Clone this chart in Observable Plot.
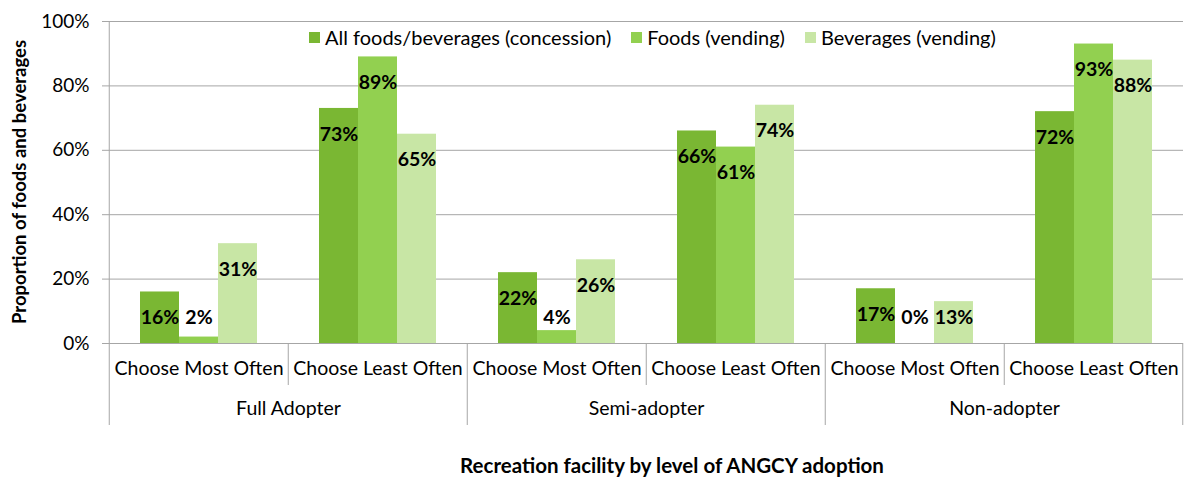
<!DOCTYPE html>
<html>
<head>
<meta charset="utf-8">
<script src="https://cdn.jsdelivr.net/npm/d3@7"></script>
<script src="https://cdn.jsdelivr.net/npm/@observablehq/plot@0.6"></script>
<style>
  html, body { margin: 0; padding: 0; background: #fff; }
  #wrap { position: relative; width: 1184px; height: 477px; font-family: Lato, "Open Sans", sans-serif; }
  #legend { position: absolute; top: 25px; left: 309px; display: flex; gap: 20px; font-size: 20px; color: #000; white-space: nowrap; }
  #legend .item { display: flex; align-items: center; }
  #legend .sw { width: 11px; height: 11px; margin-right: 5px; }
  #xtitle { position: absolute; top: 453px; left: 260px; width: 824px; text-align: center; font-weight: bold; font-size: 20.5px; color: #000; }
  #ytitle { position: absolute; left: 19px; top: 182px; transform: translate(-50%, -50%) rotate(-90deg); font-weight: bold; font-size: 18.5px; color: #000; white-space: nowrap; }
</style>
</head>
<body>
<div id="wrap">
  <div id="chart"></div>
  <div id="legend"></div>
  <div id="xtitle"></div>
  <div id="ytitle"></div>
</div>
<script>
const groups = ["Full Adopter", "Semi-adopter", "Non-adopter"];
const subs = ["Choose Most Often", "Choose Least Often"];
const series = ["All foods/beverages (concession)", "Foods (vending)", "Beverages (vending)"];
// values in %, order: Full-Most, Full-Least, Semi-Most, Semi-Least, Non-Most, Non-Least
const concession = [16, 73, 22, 66, 17, 72];
const foodsVending = [2, 89, 4, 61, 0, 93];
const beveragesVending = [31, 65, 26, 74, 13, 88];
const yTicks = [0, 0.2, 0.4, 0.6, 0.8, 1];
const colors = ["#7AB733", "#92D050", "#C8E6A5"];
const yTitle = "Proportion of foods and beverages";
const xTitle = "Recreation facility by level of ANGCY adoption";

const keys = [];
const keyInfo = {};
groups.forEach(g => subs.forEach(s => { const k = g + "|" + s; keys.push(k); keyInfo[k] = {group: g, sub: s}; }));
const seriesValues = [concession, foodsVending, beveragesVending];
const rows = [];
keys.forEach((k, i) => series.forEach((s, j) => rows.push({key: k, series: s, value: seriesValues[j][i] / 100})));
const groupRows = groups.map(g => ({key: g + "|" + subs[0], group: g}));

const W = 1184, H = 440, ML = 107, MR = 0, MT = 21, MB = 97;
const half = (W - ML - MR) / keys.length / 2;
const gray = "#A6A6A6";

const chart = Plot.plot({
  width: W, height: H,
  marginLeft: ML, marginRight: MR, marginTop: MT, marginBottom: MB,
  style: {fontFamily: "Lato, 'Open Sans', sans-serif", fontSize: "19px", color: "#000", background: "#fff", overflow: "visible"},
  fx: {domain: keys, padding: 0, axis: null, label: null},
  x: {domain: series, paddingInner: 0, paddingOuter: 0.745, axis: null},
  y: {domain: [0, 1], axis: null},
  color: {domain: series, range: colors},
  marks: [
    Plot.gridY(yTicks, {stroke: gray, strokeOpacity: 1}),
    Plot.axisY(yTicks, {tickSize: 7, tickPadding: 13, stroke: gray, tickFormat: d3.format(".0%"), label: null, fontSize: 19}),
    Plot.barY(rows, {fx: "key", x: "series", y: "value", fill: "series"}),
    Plot.text(rows, {fx: "key", x: "series", y: d => Math.max(d.value, 0.16), dy: 26,
      text: d => Math.round(d.value * 100) + "%", fontWeight: "bold", fontSize: 19.5, fill: "#000"}),
    // sub-category labels
    Plot.axisFx({anchor: "bottom", tickSize: 0, tickPadding: 18, tickFormat: k => keyInfo[k].sub, label: null, fontSize: 19.5}),
    // separators between sub-categories
    Plot.axisFx({anchor: "bottom", ticks: keys.filter((k, i) => i % 2 === 1), tickSize: 42, dx: -half, tickFormat: () => "", label: null, stroke: gray}),
    // separators between groups
    Plot.axisFx({anchor: "bottom", ticks: keys.filter((k, i) => i % 2 === 0), tickSize: 82, dx: -half, tickFormat: () => "", label: null, stroke: gray}),
    Plot.axisFx({anchor: "bottom", ticks: [keys[keys.length - 1]], tickSize: 82, dx: half - 1, tickFormat: () => "", label: null, stroke: gray}),
    // group labels
    Plot.text(groupRows, {fx: "key", frameAnchor: "bottom-right", textAnchor: "middle", dy: 71, text: "group", fontSize: 19.5, fill: "#000"}),
    // left axis line
    Plot.axisFx({anchor: "bottom", ticks: [keys[0]], tickSize: -(H - MT - MB), dx: -half, tickFormat: () => "", label: null, stroke: gray})
  ]
});
document.getElementById("chart").appendChild(chart);

const legend = document.getElementById("legend");
series.forEach((s, i) => {
  const item = document.createElement("div");
  item.className = "item";
  const sw = document.createElement("div");
  sw.className = "sw";
  sw.style.background = colors[i];
  const t = document.createElement("span");
  t.textContent = s;
  item.appendChild(sw); item.appendChild(t);
  legend.appendChild(item);
});
document.getElementById("xtitle").textContent = xTitle;
document.getElementById("ytitle").textContent = yTitle;
</script>
</body>
</html>
